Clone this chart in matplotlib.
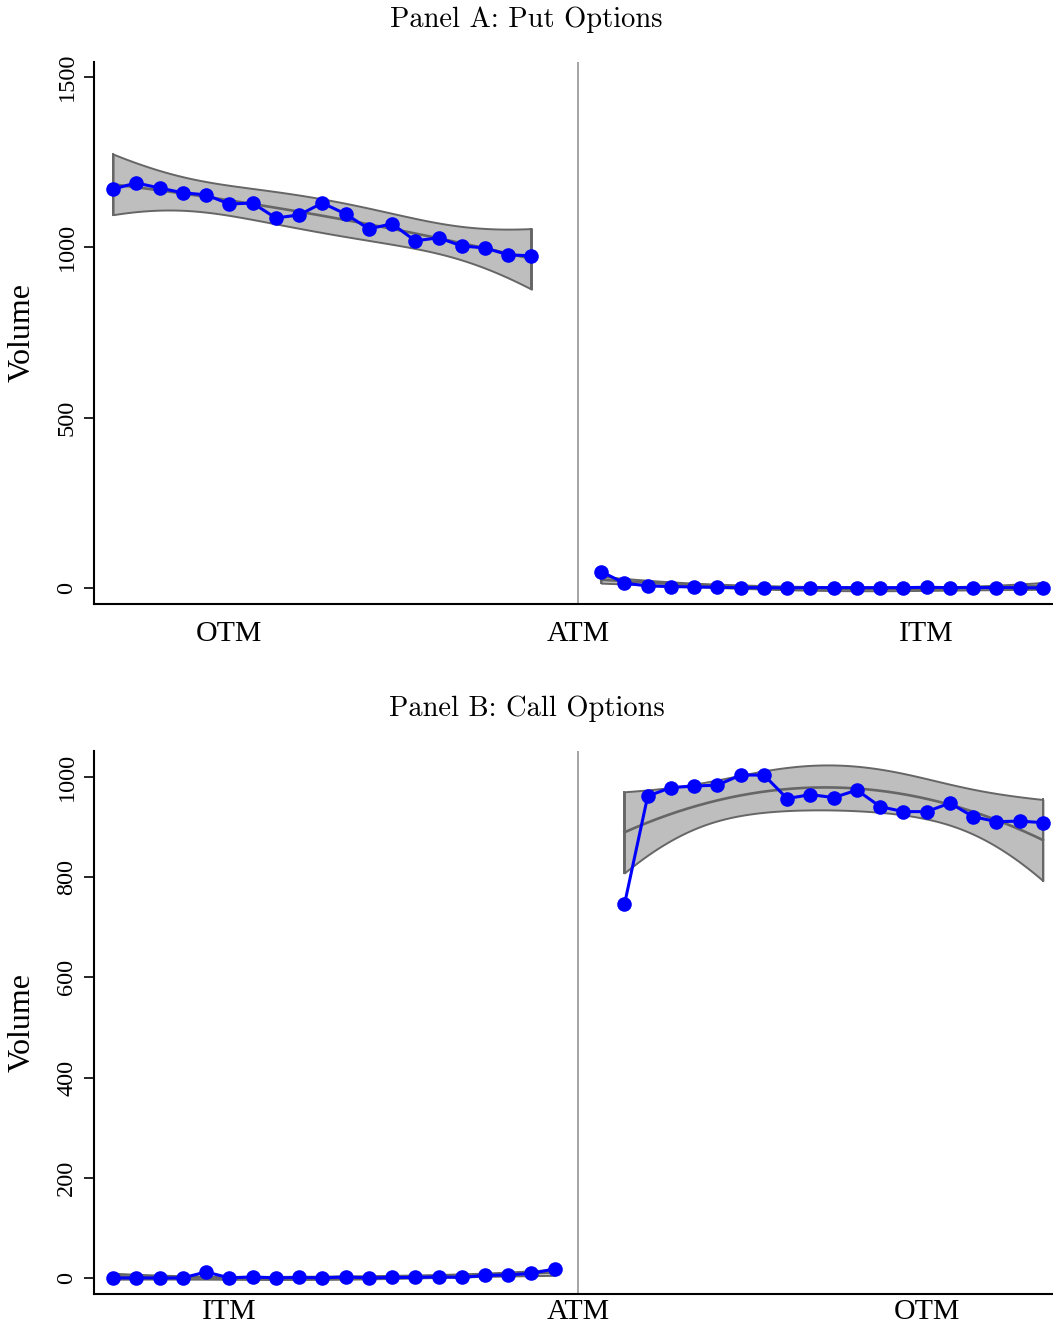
import numpy as np
import matplotlib.pyplot as plt

plt.rcParams['font.family'] = ['Liberation Serif', 'DejaVu Serif']

# strike bins relative to the at-the-money strike (0)
put_otm_bins = np.arange(-20, -1)
put_otm_vol = [1171, 1189, 1174, 1160, 1154, 1127, 1130, 1086, 1095, 1130,
               1098, 1054, 1069, 1019, 1028, 1004, 998, 978, 975]
put_itm_bins = np.arange(1, 21)
put_itm_vol = [48, 14, 6, 4, 3, 2, 1, 1, 0, 1, 1, 1, 1, 1, 2, 1, 1, 1, 1, 0]

call_itm_bins = np.arange(-20, 0)
call_itm_vol = [0, 0, 0, 0, 12, 0, 2, 0, 1, 0, 2, 0, 1, 1, 2, 1, 5, 6, 9, 18]
call_otm_bins = np.arange(2, 21)
call_otm_vol = [746, 962, 979, 982, 984, 1004, 1004, 957, 965, 959, 974,
                941, 931, 931, 948, 921, 911, 912, 909]

# 95% CI half-width of the quadratic fit at the outermost bins
# (estimated on contract-level data, so wider than the binned residuals imply)
put_otm_ci = 89
put_itm_ci = 10
call_itm_ci = 6
call_otm_ci = 81

put_ticks = ["OTM", "ATM", "ITM"]
call_ticks = ["ITM", "ATM", "OTM"]


def quad_fit_band(x, y, ci_end, n=200):
    """Quadratic fit of binned means; CI shaped by the design leverage."""
    x = np.asarray(x, float)
    y = np.asarray(y, float)
    X = np.column_stack([np.ones_like(x), x, x ** 2])
    beta, *_ = np.linalg.lstsq(X, y, rcond=None)
    xtx_inv = np.linalg.inv(X.T @ X)
    xg = np.linspace(x.min(), x.max(), n)
    Xg = np.column_stack([np.ones_like(xg), xg, xg ** 2])
    fit = Xg @ beta
    lev = np.sqrt(np.einsum('ij,jk,ik->i', Xg, xtx_inv, Xg))
    half = ci_end * lev / lev[0]
    return xg, fit, fit - half, fit + half


def draw_side(ax, x, y, ci_end):
    xg, fit, lo, hi = quad_fit_band(x, y, ci_end)
    ax.fill_between(xg, lo, hi, facecolor='#bebebe', edgecolor='#666666',
                    linewidth=1.4, zorder=2)
    # close the band at both ends
    ax.plot([xg[0], xg[0]], [lo[0], hi[0]], color='#666666', lw=1.4, zorder=2)
    ax.plot([xg[-1], xg[-1]], [lo[-1], hi[-1]], color='#666666', lw=1.4, zorder=2)
    ax.plot(xg, fit, color='#666666', lw=1.9, zorder=3)
    ax.plot(x, y, color='blue', lw=2.2, marker='o', markersize=10.5,
            markeredgewidth=0, zorder=4)


def style_axes(ax, yticks, ylim, labels, xpad=12):
    ax.axvline(0, color='#8c8c8c', lw=1.1, zorder=1)
    ax.set_xlim(-20.82, 20.39)
    ax.set_ylim(*ylim)
    ax.set_xticks([-15, 0, 15])
    ax.set_xticklabels(labels)
    ax.set_yticks(yticks)
    ax.set_yticklabels([str(v) for v in yticks], rotation=90, va='center')
    ax.tick_params(axis='x', length=0, pad=xpad, labelsize=21.5)
    ax.tick_params(axis='y', length=7, width=1.2, pad=5, labelsize=17.5)
    for side in ['top', 'right']:
        ax.spines[side].set_visible(False)
    for side in ['left', 'bottom']:
        ax.spines[side].set_linewidth(1.5)


fig = plt.figure(figsize=(10.53, 13.33), dpi=100)
ax_put = fig.add_axes([0.0893, 0.5469, 0.9097, 0.4066])
ax_call = fig.add_axes([0.0893, 0.0293, 0.9097, 0.4073])

draw_side(ax_put, put_otm_bins, put_otm_vol, put_otm_ci)
draw_side(ax_put, put_itm_bins, put_itm_vol, put_itm_ci)
style_axes(ax_put, [0, 500, 1000, 1500], (-47, 1544), put_ticks)

draw_side(ax_call, call_itm_bins, call_itm_vol, call_itm_ci)
draw_side(ax_call, call_otm_bins, call_otm_vol, call_otm_ci)
style_axes(ax_call, [0, 200, 400, 600, 800, 1000], (-32, 1052), call_ticks,
           xpad=3.5)

fig.text(0.5, 0.9855, "Panel A: Put Options", ha='center', va='center',
         fontsize=20.5, family='cmr10')
fig.text(0.5, 0.4682, "Panel B: Call Options", ha='center', va='center',
         fontsize=20.5, family='cmr10')
fig.text(0.0209, 0.7502, "Volume", rotation=90, ha='center', va='center',
         fontsize=23)
fig.text(0.0209, 0.2333, "Volume", rotation=90, ha='center', va='center',
         fontsize=23)

fig.savefig("out.png", dpi=100)
